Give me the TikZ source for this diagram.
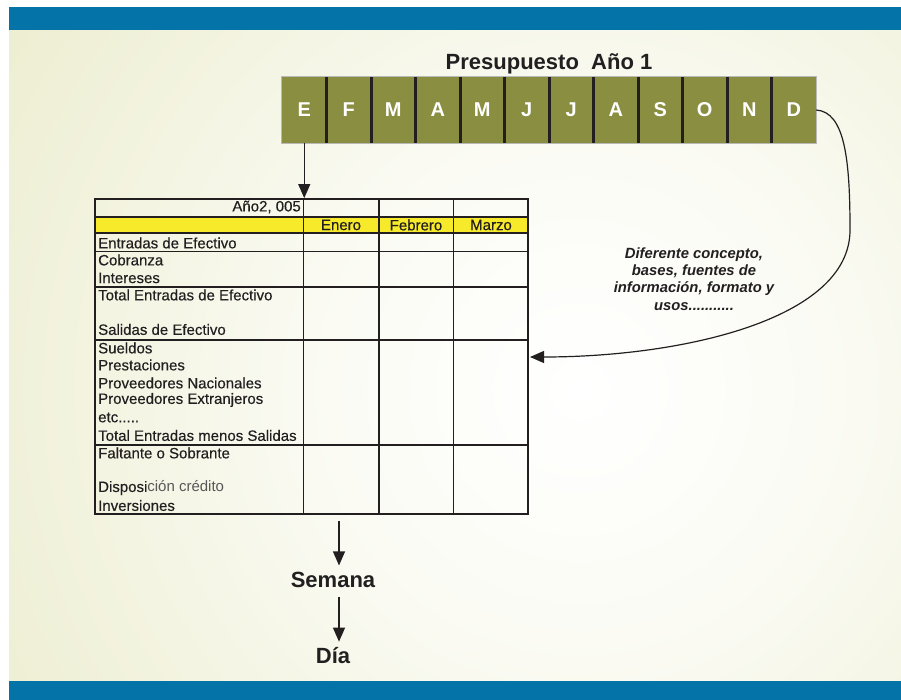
\documentclass[tikz,border=0pt]{standalone}
\usepackage{fontspec}
\setmainfont{Liberation Sans}
\newfontfamily\tabfont[FakeBold=0.35]{Liberation Sans}
\usetikzlibrary{arrows.meta}
\definecolor{topblue}{RGB}{3,115,168}
\definecolor{olivecell}{RGB}{138,142,64}
\definecolor{bgpale}{RGB}{233,234,199}
\definecolor{hdryellow}{RGB}{246,234,42}
\definecolor{ink}{RGB}{35,31,32}
\pgfdeclareradialshading{bgshade}{\pgfpoint{0bp}{0bp}}{color(0bp)=(white); color(8bp)=(white!80!bgpale); color(25bp)=(bgpale); color(50bp)=(bgpale)}
\tikzset{
  month/.style={fill=olivecell, minimum width=44.5pt, minimum height=66pt, inner sep=0pt,
    text=white, font=\bfseries\fontsize{20}{23}\selectfont},
  cell/.style={anchor=west, inner sep=0pt, text=ink, font=\tabfont\fontsize{15}{17}\selectfont},
  hdr/.style={inner sep=0pt, text=ink, font=\tabfont\fontsize{15}{17}\selectfont},
  big/.style={anchor=base, inner sep=0pt, text=ink, font=\bfseries\fontsize{22}{26}\selectfont},
  arr/.style={draw=ink, line width=1.2pt, -{Triangle[length=14pt,width=12pt]}},
  grid/.style={draw=ink, line width=1.8pt}
}
\begin{document}
\begin{tikzpicture}[x=1pt,y=-1pt]
\useasboundingbox (0,0) rectangle (901,700);
\fill[white] (0,0) rectangle (901,700);
\begin{scope}
  \clip (9,30) rectangle (901,681);
  \shade[shading=bgshade] (580,390) circle (800pt);
\end{scope}
\fill[topblue] (9,7) rectangle (901,30);
\fill[topblue] (9,681) rectangle (901,700);

% title
\node[text=ink, inner sep=0pt, font=\bfseries\fontsize{22}{26}\selectfont] (title) at (549,64) {Presupuesto\ \ Año 1};

% months strip
\foreach \m [count=\i from 0] in {E,F,M,A,M,J,J,A,S,O,N,D}
  \node[month] (m\i) at ({282+44.5*(\i+0.5)},110) {\m};
\draw[gray!55, line width=0.8pt] (m0.north west) rectangle (m11.south east);
\foreach \i in {0,...,10}
  \draw[ink, line width=3pt] (m\i.north east) -- (m\i.south east);

% table
\fill[hdryellow] (95,217) rectangle (528,233);
\node[grid, minimum width=433pt, minimum height=315pt, inner sep=0pt] (tbl) at (311.5,356.5) {};
\foreach \yy in {217,233,251.5,287,340,445}
  \draw[grid] (95,\yy) -- (528,\yy);
\foreach \xx in {303.5,379,453.5}
  \draw[grid] (\xx,199) -- (\xx,514);

\node[hdr, anchor=east] (yr) at (301,207) {Año2, 005};
\node[hdr] (h1) at (341,225) {Enero};
\node[hdr] (h2) at (416,225) {Febrero};
\node[hdr] (h3) at (491,225) {Marzo};

\node[cell] (r1) at (98,243) {Entradas de Efectivo};
\node[cell] (r2) at (98,260) {Cobranza};
\node[cell] (r3) at (98,278) {Intereses};
\node[cell] (r4) at (98,295) {Total Entradas de Efectivo};
\node[cell] (r5) at (98,329.5) {Salidas de Efectivo};
\node[cell] (r6) at (98,348) {Sueldos};
\node[cell] (r7) at (98,365) {Prestaciones};
\node[cell] (r8) at (98,383) {Proveedores Nacionales};
\node[cell] (r9) at (98,400) {Proveedores Extranjeros};
\node[cell] (r10) at (98,417.5) {etc.....};
\node[cell] (r11) at (98,435.5) {Total Entradas menos Salidas};
\node[cell] (r12) at (98,453) {Faltante o Sobrante};
\node[cell] (r13) at (98,488) {Disposi{\color{ink!75}\fontspec{Liberation Sans}ción crédito}};
\node[cell] (r14) at (98,505.5) {Inversiones};

% note
\node[text=ink, align=center, inner sep=0pt, font=\bfseries\itshape\fontsize{14.8}{17.4}\selectfont] (note) at (694,279)
  {Diferente concepto,\\ bases, fuentes de\\ información, formato y\\ usos...........};

% connectors
\coordinate (tip) at (530,357);
\draw[arr] (m11.east) .. controls (845,112) and (850,160) .. (850,230)
  .. controls (850,320) and (680,357) .. (tip);
\draw[arr] (m0.south) -- (m0.south |- tbl.north);

\node[big] (sem) at (333,587) {Semana};
\node[big] (dia) at (333,663) {Día};
\draw[arr, shorten <=6pt, shorten >=6pt] ([xshift=6pt]sem.north |- tbl.south) -- ([xshift=6pt]sem.north);
\draw[arr, shorten <=10pt, shorten >=5pt] ([xshift=6pt]sem.south) -- ([xshift=6pt]sem.south |- dia.north);
\end{tikzpicture}
\end{document}
